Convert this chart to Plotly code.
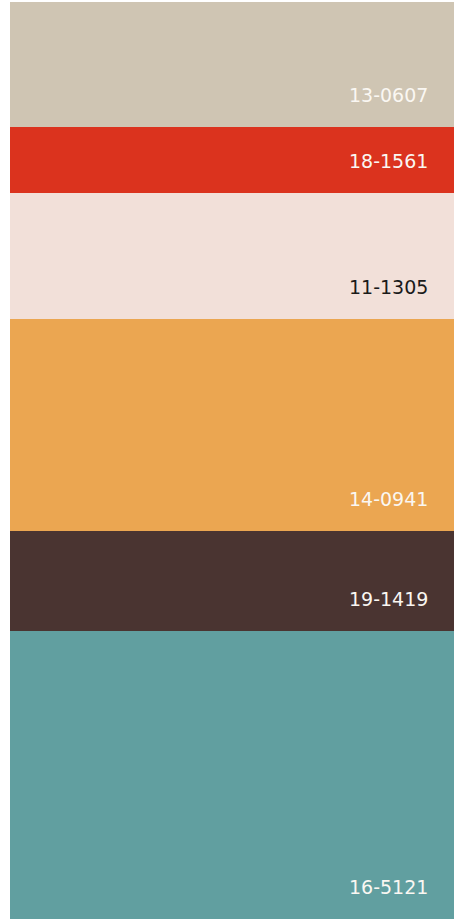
import plotly.graph_objects as go

codes = ["13-0607", "18-1561", "11-1305", "14-0941", "19-1419", "16-5121"]
shares = [125, 66, 126, 211, 100, 288]
colors = ["#CFC5B3", "#DB331E", "#F2E0D9", "#EBA651", "#4A3431", "#619FA0"]
label_colors = ["#FAF7F2", "#FAF7F2", "#1A1A1A", "#FAF7F2", "#FAF7F2", "#FAF7F2"]

fig = go.Figure()
for code, v, c in zip(codes, shares, colors):
    fig.add_trace(go.Bar(x=["palette"], y=[v], name=code, marker=dict(color=c, line=dict(width=0)),
                         hoverinfo="name"))

total = sum(shares)
cum = 0
for code, v, lc in zip(codes, shares, label_colors):
    cum += v
    fig.add_annotation(x=0.947, xref="paper", y=cum, yref="y", text=code, showarrow=False,
                       xanchor="right", yanchor="middle", yshift=32,
                       font=dict(family="DejaVu Sans", size=19, color=lc))

fig.update_layout(
    barmode="stack", bargap=0, showlegend=False,
    width=454, height=919,
    margin=dict(l=10, r=0, t=2, b=0),
    paper_bgcolor="white", plot_bgcolor="white",
    xaxis=dict(visible=False),
    yaxis=dict(visible=False, range=[total, 0]),
)
fig.write_html("out.html", config={"displayModeBar": False},
               post_script="document.body.style.margin='0';document.body.style.overflow='hidden';")
